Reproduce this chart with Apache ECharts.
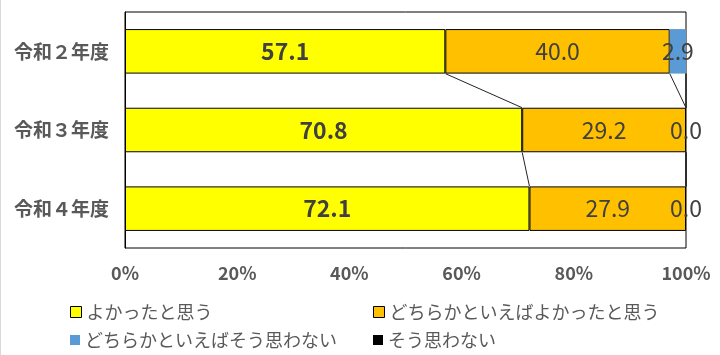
<!DOCTYPE html>
<html><head><meta charset="utf-8">
<script src="https://cdn.jsdelivr.net/npm/echarts@6/dist/echarts.min.js"></script>
</head><body style="margin:0;background:#fff">
<div id="c" style="width:720px;height:355px"></div>
<script>
const categories = ['令和２年度', '令和３年度', '令和４年度'];
const seriesNames = ['よかったと思う', 'どちらかといえばよかったと思う', 'どちらかといえばそう思わない', 'そう思わない'];
const valYes = [57.1, 70.8, 72.1];
const valRatherYes = [40.0, 29.2, 27.9];
const valRatherNo = [2.9, 0.0, 0.0];
const valNo = [0, 0, 0];
const xTickValues = [0, 20, 40, 60, 80, 100];

const FONT = '"Noto Sans CJK JP", "Noto Sans", sans-serif';
const BAR_RATIO = 0.566;
const allVals = [valYes, valRatherYes, valRatherNo, valNo];
const colors = ['#FFFF00', '#FFC000', '#5B9BD5', '#000000'];

// cumulative ends per series
const cum = [];
allVals.forEach((arr, k) => {
  cum.push(arr.map((v, i) => v + (k > 0 ? cum[k - 1][i] : 0)));
});
const lineData = [];
for (let i = 0; i < categories.length - 1; i++) {
  for (let k = 0; k < allVals.length; k++) {
    lineData.push([cum[k][i], i, cum[k][i + 1], i + 1]);
  }
}

const chart = echarts.init(document.getElementById('c'));
const barSeries = allVals.map((arr, k) => ({
  name: seriesNames[k],
  type: 'bar',
  stack: 'total',
  barWidth: (BAR_RATIO * 100) + '%',
  data: arr,
  itemStyle: {
    color: colors[k],
    borderColor: k < 2 ? '#000' : colors[k],
    borderWidth: k < 2 ? 1 : 0
  },
  label: {
    show: k < 3,
    position: 'inside',
    formatter: p => p.value.toFixed(1),
    fontFamily: FONT,
    fontSize: 23,
    fontWeight: k === 0 ? 'bold' : 'normal',
    color: '#404040'
  },
  emphasis: { disabled: true },
  z: 2
}));

const legends = seriesNames.map((n, k) => ({
  data: [{ name: n, itemStyle: k < 2 ? { borderColor: '#000', borderWidth: 1 } : { borderWidth: 0 } }],
  left: [65, 368, 65, 368][k],
  top: [296, 296, 324, 324][k],
  itemWidth: k < 2 ? 11 : 10,
  itemHeight: k < 2 ? 11 : 10,
  icon: 'rect',
  textStyle: { fontFamily: FONT, fontSize: 18, color: '#595959', lineHeight: 22 },
  selectedMode: false
}));

chart.setOption({
  animation: false,
  graphic: [{ type: 'line', shape: { x1: 0.5, y1: 0, x2: 0.5, y2: 355 }, style: { stroke: '#d9d9d9', lineWidth: 1 } }],
  grid: { left: 125, right: 34, top: 12, height: 236, show: true, borderColor: '#000', borderWidth: 1, backgroundColor: 'transparent' },
  legend: legends,
  xAxis: {
    type: 'value', min: 0, max: 100, interval: 20,
    axisLine: { show: false }, axisTick: { show: false }, splitLine: { show: false },
    axisLabel: {
      formatter: v => xTickValues.includes(v) ? v + '%' : '',
      fontFamily: FONT, fontSize: 18, fontWeight: 'bold', color: '#595959', margin: 16
    }
  },
  yAxis: {
    type: 'category', data: categories, inverse: true,
    axisLine: { show: true, lineStyle: { color: '#000' } }, axisTick: { show: false },
    axisLabel: { fontFamily: FONT, fontSize: 19, fontWeight: 'bold', color: '#595959', margin: 16 }
  },
  series: barSeries.concat([{
    type: 'custom',
    data: lineData,
    encode: { x: [0, 2], y: [1, 3] },
    silent: true,
    z: 5,
    renderItem: (params, api) => {
      const p1 = api.coord([api.value(0), api.value(1)]);
      const p2 = api.coord([api.value(2), api.value(3)]);
      const h = api.size([0, 1])[1] * BAR_RATIO / 2;
      return {
        type: 'line',
        shape: { x1: p1[0], y1: p1[1] + h, x2: p2[0], y2: p2[1] - h },
        style: { stroke: '#222', lineWidth: 1 }
      };
    }
  }])
});
</script>
</body></html>
